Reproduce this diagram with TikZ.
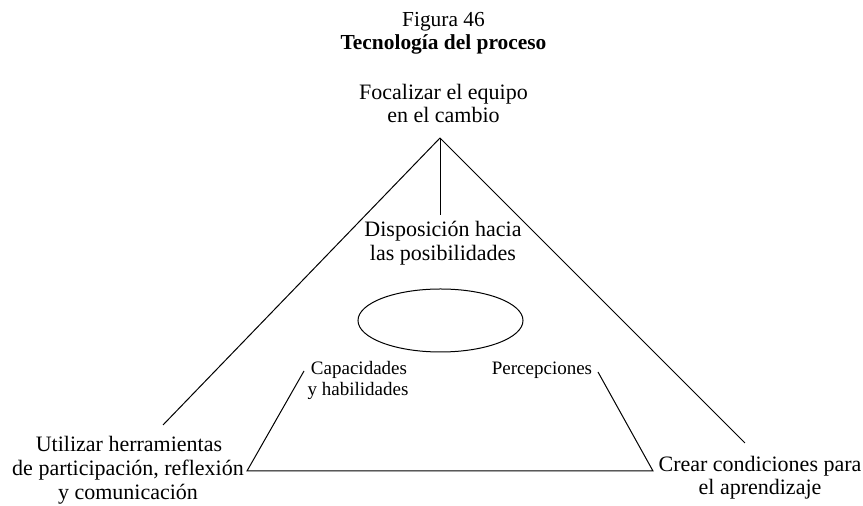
\documentclass[tikz,border=0pt]{standalone}
\usepackage{fontspec}
\setmainfont{Liberation Serif}
\usetikzlibrary{shapes.geometric}
\begin{document}
\begin{tikzpicture}[x=0.5pt,y=-0.5pt,
  big/.style={font=\fontsize{11}{12}\selectfont, inner sep=0pt, anchor=base},
  small/.style={font=\fontsize{9.5}{10.5}\selectfont, inner sep=0pt, anchor=base},
  ttl/.style={font=\fontsize{10.7}{11.5}\selectfont, inner sep=0pt, anchor=base},
  ln/.style={line width=0.5pt, black}]
\useasboundingbox (0,0) rectangle (863,506);
\node[ttl] (fig) at (443.5,27) {Figura 46};
\node[ttl, font=\fontsize{10.7}{11.5}\selectfont\bfseries] (tit) at (443.5,50) {Tecnología del proceso};
\node[big] (foca) at (443.5,100) {Focalizar el equipo};
\node[big] (focb) at (443.5,123) {en el cambio};
\node[big] (dispa) at (443,237) {Disposición hacia};
\node[big] (dispb) at (443,261) {las posibilidades};
\node[draw, ellipse, ln, minimum width=82.5pt, minimum height=31.5pt, inner sep=0pt] (ell) at (440.5,320.5) {};
\node[small] (capa) at (359,375) {Capacidades};
\node[small] (capb) at (358,396) {y habilidades};
\node[small] (per) at (542,375) {Percepciones};
\node[big] (utia) at (129,452) {Utilizar herramientas};
\node[big] (utib) at (128,476) {de participación, reflexión};
\node[big] (utic) at (128,500) {y comunicación};
\node[big] (crea) at (760,472) {Crear condiciones para};
\node[big] (creb) at (760,495) {el aprendizaje};
\coordinate (apex) at (440,138);
\coordinate (vend) at (440,215);
\coordinate (lend) at (163,425);
\coordinate (rend) at (745,443);
\coordinate (tl) at (304,371);
\coordinate (bl) at (247,471);
\coordinate (br) at (653,471);
\coordinate (tr) at (598,372);
\draw[ln] (apex) -- (vend);
\draw[ln] (apex) -- (lend);
\draw[ln] (apex) -- (rend);
\draw[ln] (tl) -- (bl) -- (br) -- (tr);
\end{tikzpicture}
\end{document}
